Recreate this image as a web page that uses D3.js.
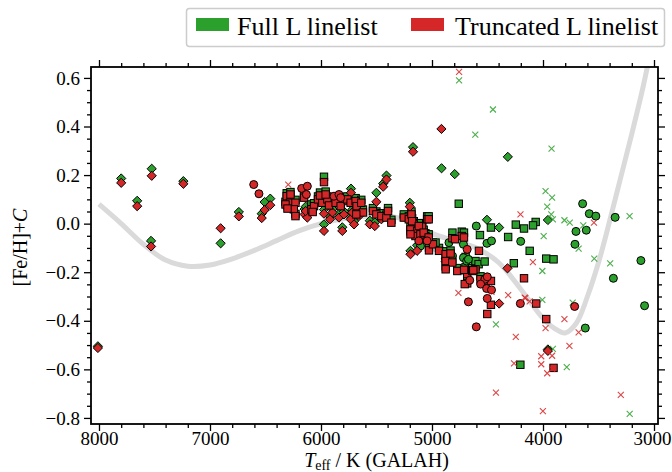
<!DOCTYPE html>
<html>
<head>
<meta charset="utf-8">
<script src="https://cdn.jsdelivr.net/npm/d3@7"></script>
<style>
  body { margin: 0; background: #fff; }
  svg { display: block; font-family: "Liberation Serif", "DejaVu Serif", serif; }
</style>
</head>
<body>
<div id="app"></div>
<script>
const W = 672;
const H = 472;
const plotL = 91, plotR = 658, plotT = 67, plotB = 424;

const green = "#2ca02c";
const red = "#d62728";

// diamonds: Teff, full linelist value, truncated linelist value
const diamondTeff = [8010, 7800, 7525, 7656, 7531, 7240, 6904, 6740, 6457, 6508, 6534, 6147, 6123, 6138, 5973, 5919, 5973, 5808, 5897, 5838, 5793, 5733, 5730, 5718, 5658, 5702, 5560, 5515, 5456, 5501, 5440, 5410, 5171, 5200, 5194, 5134, 4915, 4914, 4795, 4317, 4505, 4395, 4876, 4320, 4395, 3956, 3956];
const diamondFull = [-0.505, 0.186, 0.226, 0.094, -0.071, 0.175, -0.081, 0.048, 0.103, 0.089, 0.041, 0.060, 0.045, 0.070, 0.058, 0.030, -0.003, -0.015, 0.060, 0.040, 0.050, 0.030, 0.144, 0.058, 0.040, 0.010, 0.012, 0.005, 0.030, 0.127, 0.165, 0.198, 0.315, 0.086, -0.112, -0.089, null, 0.228, 0.204, 0.275, 0.016, -0.016, -0.145, null, null, -0.518, 0.015];
const diamondTrunc = [-0.512, 0.168, 0.197, 0.072, -0.094, 0.164, -0.019, 0.030, 0.076, 0.056, 0.023, 0.038, 0.025, 0.052, 0.041, 0.018, -0.030, -0.030, 0.046, 0.025, 0.038, 0.018, 0.127, 0.046, 0.031, -0.003, -0.003, -0.010, 0.018, 0.090, 0.152, 0.182, 0.296, 0.070, -0.126, -0.112, 0.390, null, null, null, null, null, -0.156, -0.184, -0.329, -0.524, null];

// squares
const squareTeff = [6309, 6279, 6320, 6230, 6245, 6230, 6302, 6275, 6153, 6087, 6063, 6075, 5973, 6027, 5988, 5943, 5928, 6009, 5958, 5868, 5793, 5823, 5763, 5733, 5688, 5679, 5637, 5622, 5532, 5501, 5456, 5411, 5396, 5366, 5682, 5254, 5209, 5164, 5194, 5134, 5089, 5044, 5104, 5149, 5059, 5185, 5179, 5194, 5119, 5104, 5030, 5075, 5030, 5027, 4991, 4937, 4877, 4833, 4877, 4817, 4772, 4877, 4698, 4683, 4638, 4608, 4683, 4563, 4816, 4732, 4793, 4712, 4968, 4697, 4608, 4759, 4577, 4580, 4526, 4245, 4171, 4314, 4568, 4469, 4066, 4090, 4120, 3971, 3905, 4263, 4171, 4523, 4469, 4705, 4628, 4711, 4469, 4502, 4204, 4061, 3971, 3905];
const squareFull = [0.125, 0.098, 0.090, 0.098, 0.070, 0.040, 0.075, 0.130, 0.118, 0.079, 0.084, 0.058, 0.193, 0.112, 0.098, 0.112, 0.088, 0.128, 0.132, 0.098, 0.105, 0.084, 0.112, 0.098, 0.105, 0.084, 0.098, 0.058, 0.064, 0.050, 0.043, 0.037, 0.064, 0.016, 0.050, 0.038, 0.030, 0.010, -0.012, -0.018, 0.002, 0.030, -0.050, -0.038, -0.040, 0.050, 0.022, -0.032, 0.002, -0.032, 0.030, -0.025, -0.044, -0.098, -0.078, -0.100, -0.114, -0.111, -0.142, -0.148, -0.183, -0.176, -0.180, -0.196, -0.183, -0.176, -0.234, -0.217, -0.037, -0.033, null, -0.037, -0.078, -0.137, -0.154, 0.082, null, -0.167, -0.156, -0.004, -0.020, -0.055, -0.047, -0.016, 0.007, -0.007, -0.112, -0.144, -0.147, -0.163, null, null, null, null, null, null, null, null, -0.581, null, null, null];
const squareTrunc = [0.113, 0.086, 0.079, 0.086, 0.059, 0.031, 0.062, 0.120, 0.107, 0.059, 0.072, 0.048, 0.171, 0.100, 0.086, 0.100, 0.075, 0.116, 0.120, 0.086, 0.093, 0.072, 0.100, 0.086, 0.093, 0.072, 0.086, 0.046, 0.052, 0.038, 0.031, 0.025, 0.052, 0.004, 0.038, 0.025, 0.018, -0.003, -0.024, -0.030, -0.010, 0.018, -0.064, -0.051, -0.051, 0.038, 0.010, -0.044, -0.010, -0.044, 0.018, -0.037, -0.057, -0.110, -0.085, -0.112, -0.126, -0.123, -0.154, -0.160, -0.195, -0.188, -0.192, -0.208, -0.195, -0.188, -0.246, -0.229, -0.060, -0.051, -0.064, -0.057, null, null, null, null, -0.112, null, null, null, null, null, null, null, null, null, null, null, null, null, -0.225, -0.236, -0.236, -0.249, -0.192, -0.190, -0.334, -0.372, null, -0.329, -0.393, -0.594];

// circles
const circleTeff = [6606, 6559, 6174, 6123, 6132, 5883, 5838, 5823, 5119, 5044, 4683, 4523, 4562, 4502, 4660, 4508, 4464, 4672, 4502, 4601, 4204, 3715, 4601, 4201, 4505, 4464, 4717, 4717, 4688, 4672, 5104, 4847, 4817, 3643, 3583, 3524, 3350, 3703, 3610, 3712, 3118, 3366, 3619, 3085];
const circleFull = [null, null, null, null, null, null, null, null, null, null, null, null, null, null, null, null, null, null, null, null, null, null, -0.010, -0.073, -0.081, -0.071, -0.085, -0.140, -0.154, -0.147, -0.092, -0.078, -0.133, 0.082, 0.041, 0.031, 0.026, -0.032, -0.027, -0.085, -0.152, -0.225, -0.430, -0.338];
const circleTrunc = [0.161, 0.123, 0.145, 0.154, 0.120, 0.113, 0.120, 0.107, -0.071, -0.071, -0.106, -0.229, -0.249, -0.219, -0.233, -0.267, -0.273, -0.322, -0.308, -0.425, -0.329, -0.341, null, null, null, null, null, null, null, null, null, null, null, null, null, null, null, null, null, null, null, null, null, null];

// crosses (no edge colour)
const crossFullTeff = [4756, 4451, 4610, 3923, 3977, 3918, 3962, 3926, 3911, 3220, 3807, 3759, 3637, 3994, 3679, 3538, 3395, 4006, 4006, 3733, 4424, 3911, 3786, 3219];
const crossFull = [0.590, 0.470, 0.367, 0.309, 0.134, 0.107, 0.070, 0.038, 0.018, 0.031, 0.014, 0.004, -0.007, -0.051, -0.103, -0.144, -0.164, -0.195, -0.314, -0.325, -0.415, -0.516, -0.591, -0.783];
const crossTruncTeff = [6295, 4756, 4203, 4762, 4464, 4314, 4165, 4245, 4261, 4424, 4091, 4159, 4120, 3807, 3977, 3679, 3762, 4016, 3918, 4016, 3918, 3962, 4001, 3299, 3541];
const crossTrunc = [0.161, 0.625, 0.038, -0.285, -0.281, -0.294, -0.305, -0.466, -0.575, -0.696, -0.158, -0.307, -0.320, -0.393, -0.430, -0.448, -0.503, -0.546, -0.544, -0.579, -0.598, -0.616, -0.772, -0.705, 0.004];

// grey reference curve
const curveTeff = [8000, 7800, 7600, 7400, 7200, 7000, 6800, 6600, 6400, 6200, 6000, 5800, 5600, 5400, 5200, 5000, 4800, 4600, 4400, 4200, 4000, 3900, 3800, 3700, 3600, 3500, 3400, 3300, 3200, 3100, 3040];
const curveVal = [0.080, 0.000, -0.085, -0.150, -0.175, -0.170, -0.145, -0.110, -0.070, -0.030, 0.000, 0.020, 0.030, 0.030, 0.010, -0.040, -0.070, -0.100, -0.160, -0.270, -0.390, -0.430, -0.450, -0.410, -0.300, -0.160, 0.010, 0.190, 0.370, 0.560, 0.690];

const xMajor = [8000, 7000, 6000, 5000, 4000, 3000];
const yMajor = [-0.8, -0.6, -0.4, -0.2, 0.0, 0.2, 0.4, 0.6];

const x = d3.scaleLinear().domain([8072, 2964]).range([plotL, plotR]);
const y = d3.scaleLinear().domain([-0.825, 0.645]).range([plotB, plotT]);

const svg = d3.select("#app").append("svg")
    .attr("width", W)
    .attr("height", H);

svg.append("defs").append("clipPath").attr("id", "plotclip")
    .append("rect")
    .attr("x", plotL).attr("y", plotT)
    .attr("width", plotR - plotL).attr("height", plotB - plotT);

// CURVE
const line = d3.line()
    .x(function (d) { return x(d[0]); })
    .y(function (d) { return y(d[1]); })
    .curve(d3.curveCatmullRom);
svg.append("path")
    .datum(d3.zip(curveTeff, curveVal))
    .attr("clip-path", "url(#plotclip)")
    .attr("d", line)
    .style("fill", "none")
    .style("stroke", "#dadada")
    .style("stroke-width", 5);

// POINTS
function collect(shape, teff, vals, color) {
    const out = [];
    teff.forEach(function (t, i) {
        if (vals[i] !== null) out.push({ shape: shape, t: t, v: vals[i], color: color });
    });
    return out;
}

const greens = [].concat(
    collect("D", diamondTeff, diamondFull, green),
    collect("s", squareTeff, squareFull, green),
    collect("o", circleTeff, circleFull, green),
    collect("x", crossFullTeff, crossFull, green)
);
const reds = [].concat(
    collect("D", diamondTeff, diamondTrunc, red),
    collect("s", squareTeff, squareTrunc, red),
    collect("o", circleTeff, circleTrunc, red),
    collect("x", crossTruncTeff, crossTrunc, red)
);

const pts = svg.append("g").attr("clip-path", "url(#plotclip)");

function drawMarker(g, d) {
    const px = x(d.t), py = y(d.v);
    if (d.shape === "D") {
        const r = 4.6;
        g.append("path")
            .attr("d", "M" + px + "," + (py - r) + "L" + (px + r) + "," + py + "L" + px + "," + (py + r) + "L" + (px - r) + "," + py + "Z")
            .style("fill", d.color).style("stroke", "#000").style("stroke-width", 1);
    } else if (d.shape === "s") {
        const s = 7.4;
        g.append("rect")
            .attr("x", px - s / 2).attr("y", py - s / 2)
            .attr("width", s).attr("height", s)
            .style("fill", d.color).style("stroke", "#000").style("stroke-width", 1);
    } else if (d.shape === "o") {
        g.append("circle")
            .attr("cx", px).attr("cy", py).attr("r", 4)
            .style("fill", d.color).style("stroke", "#000").style("stroke-width", 1);
    } else {
        const a = 3;
        g.append("path")
            .attr("d", "M" + (px - a) + "," + (py - a) + "L" + (px + a) + "," + (py + a) + "M" + (px - a) + "," + (py + a) + "L" + (px + a) + "," + (py - a))
            .style("fill", "none").style("stroke", d.color).style("stroke-width", 1.1)
            .style("opacity", 0.85);
    }
}

greens.forEach(function (d) { drawMarker(pts, d); });
reds.forEach(function (d) { drawMarker(pts, d); });

// AXES
const xMinor = d3.range(3000, 8001, 200).filter(function (v) { return v % 1000 !== 0; });
const yMinor = d3.range(-16, 13).map(function (k) { return k * 0.05; })
    .filter(function (v) { return Math.abs(Math.round(v * 100) % 20) !== 0; });

const fmtY = function (v) { return d3.format(".1f")(v).replace("-", "\u2212"); };

function styleAxis(g) {
    g.select(".domain").remove();
    g.selectAll(".tick line").style("stroke", "#000").style("stroke-width", 1.3);
    g.selectAll(".tick text")
        .style("font-family", "'Liberation Serif', serif")
        .style("font-size", "19px")
        .style("fill", "#000");
}

const xAxisG = svg.append("g").attr("transform", "translate(0," + plotB + ")")
    .call(d3.axisBottom(x).tickValues(xMajor).tickSize(7).tickPadding(1).tickFormat(d3.format("d")))
    .call(styleAxis);
// last label sits against the page edge, nudge it in
xAxisG.selectAll(".tick text").filter(function (d) { return d === 3000; }).attr("dx", -2);
svg.append("g").attr("transform", "translate(0," + plotB + ")")
    .call(d3.axisBottom(x).tickValues(xMinor).tickSize(4).tickFormat(""))
    .call(styleAxis);
svg.append("g").attr("transform", "translate(0," + plotT + ")")
    .call(d3.axisTop(x).tickValues(xMajor).tickSize(7).tickFormat(""))
    .call(styleAxis);
svg.append("g").attr("transform", "translate(0," + plotT + ")")
    .call(d3.axisTop(x).tickValues(xMinor).tickSize(4).tickFormat(""))
    .call(styleAxis);

svg.append("g").attr("transform", "translate(" + plotL + ",0)")
    .call(d3.axisLeft(y).tickValues(yMajor).tickSize(7).tickPadding(4).tickFormat(fmtY))
    .call(styleAxis);
svg.append("g").attr("transform", "translate(" + plotL + ",0)")
    .call(d3.axisLeft(y).tickValues(yMinor).tickSize(4).tickFormat(""))
    .call(styleAxis);
svg.append("g").attr("transform", "translate(" + plotR + ",0)")
    .call(d3.axisRight(y).tickValues(yMajor).tickSize(7).tickFormat(""))
    .call(styleAxis);
svg.append("g").attr("transform", "translate(" + plotR + ",0)")
    .call(d3.axisRight(y).tickValues(yMinor).tickSize(4).tickFormat(""))
    .call(styleAxis);

// FRAME
svg.append("rect")
    .attr("x", plotL).attr("y", plotT)
    .attr("width", plotR - plotL).attr("height", plotB - plotT)
    .style("fill", "none").style("stroke", "#000").style("stroke-width", 1.8);

// LABELS
const xl = svg.append("text")
    .attr("x", (plotL + plotR) / 2 + 2).attr("y", 467)
    .attr("text-anchor", "middle")
    .style("font-size", "20px");
xl.append("tspan").style("font-style", "italic").text("T");
xl.append("tspan").attr("dy", 3).style("font-size", "14px").text("eff");
xl.append("tspan").attr("dy", -3).text(" / K (GALAH)");

const yl = svg.append("text")
    .attr("transform", "translate(27," + ((plotT + plotB) / 2 + 2) + ") rotate(-90)")
    .attr("text-anchor", "middle")
    .style("font-size", "20px");
yl.append("tspan").text("[Fe/H]+");
yl.append("tspan").style("font-style", "italic").text("C");

// LEGEND
const lg = svg.append("g");
lg.append("rect")
    .attr("x", 186.5).attr("y", 8.5)
    .attr("width", 478).attr("height", 38)
    .attr("rx", 3)
    .style("fill", "#fff").style("stroke", "#cccccc").style("stroke-width", 1.5);
lg.append("rect").attr("x", 196).attr("y", 18).attr("width", 33).attr("height", 13).style("fill", green);
lg.append("text").attr("x", 237).attr("y", 35).style("font-size", "26px").text("Full L linelist");
lg.append("rect").attr("x", 411).attr("y", 18).attr("width", 33).attr("height", 13).style("fill", red);
lg.append("text").attr("x", 455).attr("y", 35).style("font-size", "26px").text("Truncated L linelist");
</script>
</body>
</html>
